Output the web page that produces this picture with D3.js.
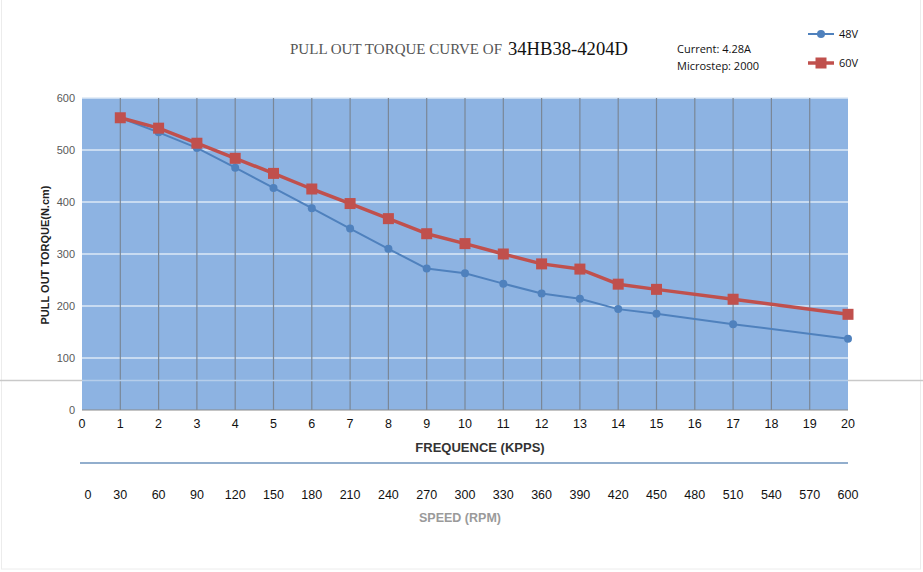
<html>
<head>
<script src="https://d3js.org/d3.v7.min.js"></script>
<style>
  body { margin: 0; background: #fff; }
  text { font-family: "Liberation Sans", Arial, sans-serif; }
</style>
</head>
<body>
<svg id="chart" width="923" height="572"></svg>
<script>
// frequency (kpps) values where the torque was measured
const freq = [1, 2, 3, 4, 5, 6, 7, 8, 9, 10, 11, 12, 13, 14, 15, 17, 20];
const torque48 = [562, 534, 504, 466, 427, 388, 349, 310, 272, 263, 243, 224, 214, 194, 185, 165, 137];
const torque60 = [562, 542, 513, 484, 455, 425, 397, 368, 339, 320, 300, 281, 271, 242, 232, 213, 184];
const freqTicks = d3.range(0, 21);
const rpmTicks = [0, 30, 60, 90, 120, 150, 180, 210, 240, 270, 300, 330, 360, 390, 420, 450, 480, 510, 540, 570, 600];
const torqueTicks = [0, 100, 200, 300, 400, 500, 600];

const svg = d3.select("#chart");
const margin = { top: 98, left: 82, right: 75, bottom: 162 };
const w = 923 - margin.left - margin.right;
const h = 572 - margin.top - margin.bottom;

const x = d3.scaleLinear().domain([0, 20]).range([margin.left, margin.left + w]);
const y = d3.scaleLinear().domain([0, 600]).range([margin.top + h, margin.top]);

// faint page border
svg.append("rect").attr("x", 1.5).attr("y", -2).attr("width", 919).attr("height", 571)
  .attr("fill", "none").attr("stroke", "#ececec");

// stray horizontal rule across the page
svg.append("line").attr("x1", 0).attr("x2", 923).attr("y1", 380.5).attr("y2", 380.5)
  .attr("stroke", "#c9c9c9").attr("stroke-width", 1.5);

// plot background
svg.append("rect")
  .attr("x", x(0)).attr("y", y(600))
  .attr("width", x(20) - x(0)).attr("height", y(0) - y(600))
  .attr("fill", "#8db3e2");

// horizontal gridlines
svg.append("g").selectAll("line").data(torqueTicks.filter(d => d > 0))
  .join("line")
  .attr("x1", x(0)).attr("x2", x(20))
  .attr("y1", d => y(d)).attr("y2", d => y(d))
  .attr("stroke", "#dce8f6").attr("stroke-width", 1.3);

// vertical gridlines
svg.append("g").selectAll("line").data(freqTicks.filter(d => d > 0 && d < 20))
  .join("line")
  .attr("x1", d => x(d)).attr("x2", d => x(d))
  .attr("y1", y(600)).attr("y2", y(0))
  .attr("stroke", "#7a8797").attr("stroke-width", 1.2);

// rule over the plot (lighter)
svg.append("line").attr("x1", x(0)).attr("x2", x(20)).attr("y1", 380.5).attr("y2", 380.5)
  .attr("stroke", "#b5cdea").attr("stroke-width", 1.5);

// axis baseline
svg.append("line").attr("x1", x(0)).attr("x2", x(20)).attr("y1", y(0)).attr("y2", y(0))
  .attr("stroke", "#8a8a8a").attr("stroke-width", 1);

// y tick labels
svg.append("g").selectAll("text").data(torqueTicks)
  .join("text")
  .attr("x", x(0) - 7).attr("y", d => y(d) + 4)
  .attr("text-anchor", "end")
  .attr("font-size", 11).attr("fill", "#595959")
  .text(d => d);

// x tick labels (frequence)
svg.append("g").selectAll("text").data(freqTicks)
  .join("text")
  .attr("x", d => x(d)).attr("y", 428)
  .attr("text-anchor", "middle")
  .attr("font-size", 12.5).attr("fill", "#111")
  .text(d => d);

svg.append("text").attr("x", 480).attr("y", 452).attr("text-anchor", "middle")
  .attr("font-size", 13).attr("font-weight", "bold").attr("fill", "#333")
  .text("FREQUENCE (KPPS)");

// separator line for the speed scale
svg.append("line").attr("x1", 80).attr("x2", 848).attr("y1", 463).attr("y2", 463)
  .attr("stroke", "#6e93bd").attr("stroke-width", 1.5);

// speed labels (rpm = 30 x kpps)
svg.append("g").selectAll("text").data(rpmTicks)
  .join("text")
  .attr("x", d => x(d / 30) + (d === 0 ? 6 : 0)).attr("y", 499)
  .attr("text-anchor", "middle")
  .attr("font-size", 12.5).attr("fill", "#111")
  .text(d => d);

svg.append("text").attr("x", 460).attr("y", 522).attr("text-anchor", "middle")
  .attr("font-size", 12.5).attr("font-weight", "bold").attr("fill", "#9a9a9a")
  .text("SPEED (RPM)");

// y axis title
svg.append("text")
  .attr("transform", `translate(49, ${y(300) + 1}) rotate(-90)`)
  .attr("text-anchor", "middle")
  .attr("font-size", 11).attr("font-weight", "bold").attr("fill", "#222")
  .text("PULL OUT TORQUE(N.cm)");

// title
svg.append("text").attr("x", 290).attr("y", 54)
  .attr("textLength", 212).attr("lengthAdjust", "spacingAndGlyphs")
  .style("font-family", "'Liberation Serif', 'DejaVu Serif', serif")
  .attr("font-size", 15).attr("fill", "#555")
  .text("PULL OUT TORQUE CURVE OF");
svg.append("text").attr("x", 508).attr("y", 55)
  .attr("textLength", 120).attr("lengthAdjust", "spacingAndGlyphs")
  .style("font-family", "'Liberation Serif', 'DejaVu Serif', serif")
  .attr("font-size", 19).attr("fill", "#111")
  .text("34HB38-4204D");

// notes
svg.append("text").attr("x", 677).attr("y", 53)
  .style("font-family", "'Open Sans', sans-serif")
  .attr("font-size", 11).attr("fill", "#111").text("Current: 4.28A");
svg.append("text").attr("x", 677).attr("y", 70)
  .style("font-family", "'Open Sans', sans-serif")
  .attr("font-size", 11).attr("fill", "#111").text("Microstep: 2000");

// series
const series = [
  { name: "48V", values: torque48, color: "#4f81bd", width: 2, marker: "circle", ly: 34 },
  { name: "60V", values: torque60, color: "#c0504d", width: 3.5, marker: "square", ly: 63 }
];

const line = d3.line().x(d => x(d[0])).y(d => y(d[1]));

series.forEach(s => {
  const pts = freq.map((f, i) => [f, s.values[i]]);
  svg.append("path").datum(pts)
    .attr("fill", "none").attr("stroke", s.color).attr("stroke-width", s.width)
    .attr("stroke-linejoin", "round")
    .attr("d", line);
  if (s.marker === "circle") {
    svg.append("g").selectAll("circle").data(pts).join("circle")
      .attr("cx", d => x(d[0])).attr("cy", d => y(d[1])).attr("r", 4)
      .attr("fill", s.color);
  } else {
    svg.append("g").selectAll("rect").data(pts).join("rect")
      .attr("x", d => x(d[0]) - 5.5).attr("y", d => y(d[1]) - 5.5)
      .attr("width", 11).attr("height", 11)
      .attr("fill", s.color);
  }

  // legend
  const lg = svg.append("g");
  lg.append("line").attr("x1", 808).attr("x2", 834).attr("y1", s.ly).attr("y2", s.ly)
    .attr("stroke", s.color).attr("stroke-width", s.width);
  if (s.marker === "circle") {
    lg.append("circle").attr("cx", 821).attr("cy", s.ly).attr("r", 4).attr("fill", s.color);
  } else {
    lg.append("rect").attr("x", 815.5).attr("y", s.ly - 5.5).attr("width", 11).attr("height", 11).attr("fill", s.color);
  }
  lg.append("text").attr("x", 839).attr("y", s.ly + 4)
    .style("font-family", "'Open Sans', sans-serif")
    .attr("font-size", 11).attr("fill", "#111").text(s.name);
});
</script>
</body>
</html>
